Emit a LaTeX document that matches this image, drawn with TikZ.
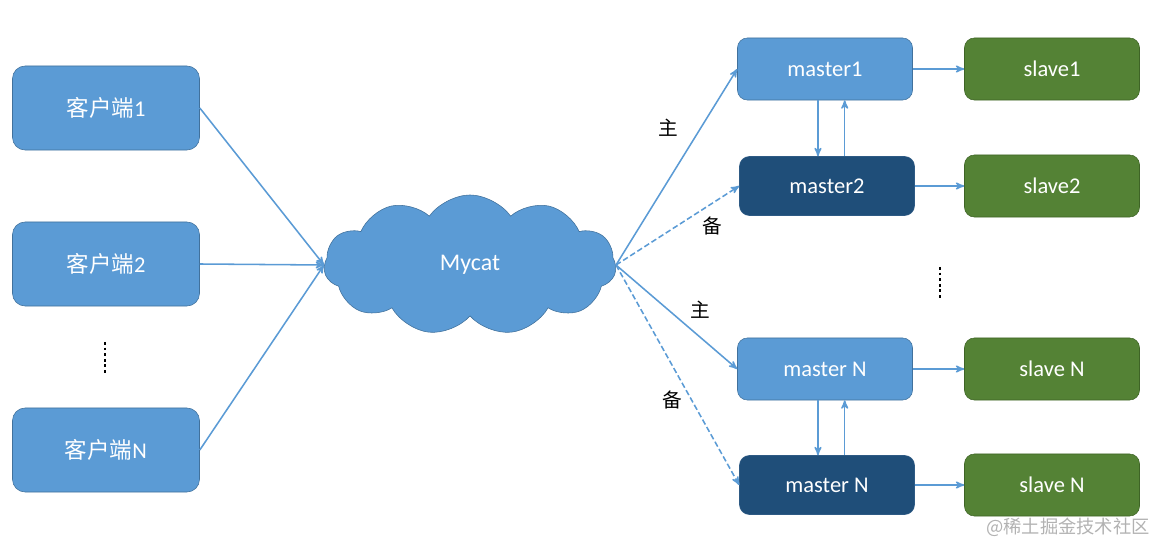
\documentclass[tikz,border=0pt]{standalone}
\usepackage{fontspec}
\setmainfont{Carlito}
\newfontfamily\cjk{Noto Sans CJK SC}
\usetikzlibrary{arrows,shapes.symbols}

\definecolor{lightblue}{HTML}{5B9BD5}
\definecolor{lightedge}{HTML}{41719C}
\definecolor{darkblue}{HTML}{1F4E79}
\definecolor{darkedge}{HTML}{2E5A84}
\definecolor{slavegreen}{HTML}{548235}
\definecolor{slaveedge}{HTML}{3E6426}

\begin{document}
\begin{tikzpicture}[x=0.025cm,y=-0.025cm,->,>=stealth',shorten >=0pt,
  line width=1.1pt,draw=lightblue,
  client node/.style={rectangle,rounded corners=9pt,fill=lightblue,draw=lightedge,thin,
    minimum width=4.675cm,minimum height=2.1cm,text=white,font=\fontsize{16}{19}\selectfont},
  master node/.style={rectangle,rounded corners=7pt,fill=lightblue,draw=lightedge,thin,
    minimum width=4.375cm,minimum height=1.55cm,text=white,font=\fontsize{16}{19}\selectfont},
  backup node/.style={master node,fill=darkblue,draw=darkedge,minimum height=1.475cm},
  slave node/.style={master node,fill=slavegreen,draw=slaveedge},
  spare/.style={dash pattern=on 4pt off 2pt},
  tag/.style={font=\cjk\fontsize{14}{16}\selectfont,text=black}]

\useasboundingbox (0,0) rectangle (1167,557);

% clients
\node[client node](C1) at (106,108) {{\cjk 客户端}1};
\node[client node](C2) at (106,264) {{\cjk 客户端}2};
\node[client node](CN) at (106,450) {{\cjk 客户端}N};
\draw[-,dotted,line width=2pt,black] (105,342) -- (105,374);

% middleware
\node[cloud,cloud puffs=11,cloud puff arc=110,aspect=2.1,fill=lightblue,draw=lightedge,thin,
  minimum width=7.3cm,minimum height=3.5cm,text=white,
  font=\fontsize{17}{20}\selectfont](M) at (470,265) {Mycat};

% masters and slaves
\node[master node](M1) at (825,69) {master1};
\node[backup node](M2) at (827,186) {master2};
\node[slave node](S1) at (1052,69) {slave1};
\node[slave node](S2) at (1052,186) {slave2};
\node[master node](MN) at (825,369) {master N};
\node[backup node](MB) at (827,485) {master N};
\node[slave node](SN) at (1052,369) {slave N};
\node[slave node](SB) at (1052,485) {slave N};
\draw[-,dotted,line width=2pt,black] (940,267) -- (940,298);

\node[tag](t1) at (668,128) {主};
\node[tag](t2) at (712,226) {备};
\node[tag](t3) at (700,310) {主};
\node[tag](t4) at (672,400) {备};

\path
(C1.east) edge (M.west)
(C2.east) edge (M.west)
(CN.east) edge (M.west)
(M.east) edge (M1.west)
(M.east) edge[spare] (M2.west)
(M.east) edge (MN.west)
(M.east) edge[spare] (MB.west)
(M1) edge (S1)
(M2) edge (S2)
(MN) edge (SN)
(MB) edge (SB)
([xshift=-5pt]M1.south) edge ([xshift=-5pt]M1.south |- M2.north)
([xshift=14pt]M1.south |- M2.north) edge ([xshift=14pt]M1.south)
([xshift=-5pt]MN.south) edge ([xshift=-5pt]MN.south |- MB.north)
([xshift=14pt]MN.south |- MB.north) edge ([xshift=14pt]MN.south);

\node[font=\cjk\fontsize{13}{15}\selectfont,text=gray!60](wm) at (1068,527) {@稀土掘金技术社区};
\end{tikzpicture}
\end{document}
